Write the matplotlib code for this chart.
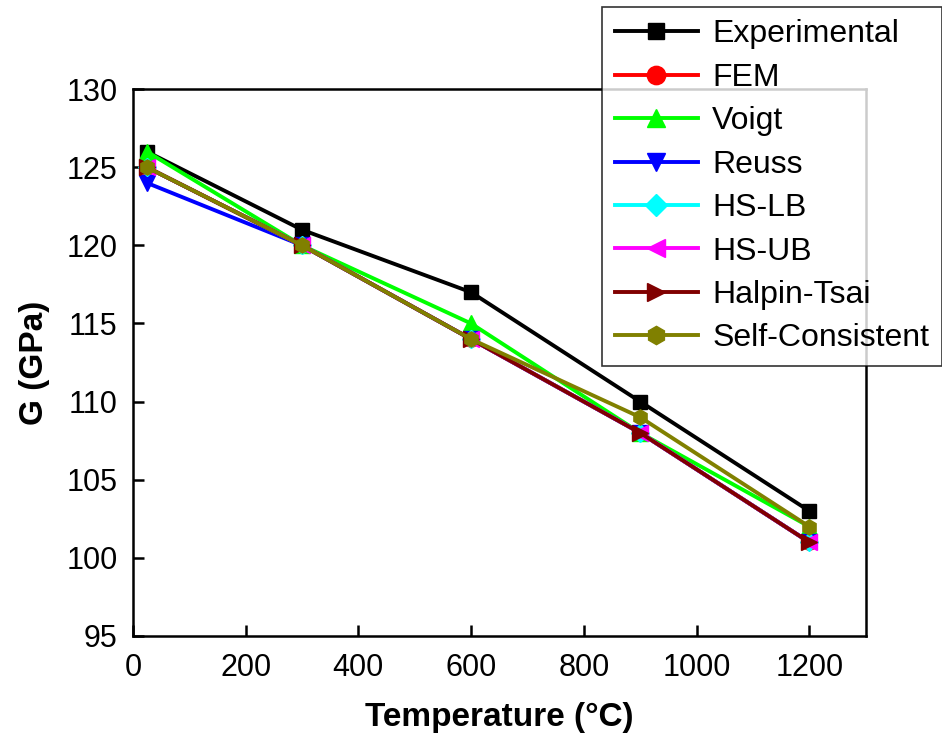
import matplotlib
matplotlib.use("Agg")
import matplotlib.pyplot as plt

temps = [25, 300, 600, 900, 1200]
experimental = [126, 121, 117, 110, 103]
fem = [125, 120, 114, 108, 101]
voigt = [126, 120, 115, 108, 102]
reuss = [124, 120, 114, 108, 101]
hs_lb = [125, 120, 114, 108, 101]
hs_ub = [125, 120, 114, 108, 101]
halpin_tsai = [125, 120, 114, 108, 101]
self_consistent = [125, 120, 114, 109, 102]

series = [
    ("Experimental", experimental, "#000000", "s"),
    ("FEM", fem, "#ff0000", "o"),
    ("Voigt", voigt, "#00ff00", "^"),
    ("Reuss", reuss, "#0000ff", "v"),
    ("HS-LB", hs_lb, "#00ffff", "D"),
    ("HS-UB", hs_ub, "#ff00ff", "<"),
    ("Halpin-Tsai", halpin_tsai, "#800000", ">"),
    ("Self-Consistent", self_consistent, "#808000", "h"),
]

plt.rcParams['font.family'] = ['Liberation Sans', 'DejaVu Sans']

fig = plt.figure(figsize=(9.42, 7.46), dpi=100)
ax = fig.add_axes([0.141, 0.1475, 0.778, 0.733])

for name, vals, col, mk in series:
    ms = 10 if mk in ("s",) else 11
    if mk == "D":
        ms = 9
    ax.plot(temps, vals, color=col, marker=mk, markersize=ms, linewidth=2.8,
            markeredgecolor=col, label=name)

ax.set_xlim(0, 1300)
ax.set_ylim(95, 130)
ax.set_xticks([0, 200, 400, 600, 800, 1000, 1200])
ax.set_yticks([95, 100, 105, 110, 115, 120, 125, 130])
ax.tick_params(direction='in', length=8, width=1.8, labelsize=22)
ax.tick_params(axis='y', pad=11)
ax.tick_params(axis='x', pad=12)
for s in ax.spines.values():
    s.set_linewidth(1.8)

ax.set_xlabel("Temperature (°C)", fontsize=24, fontweight='bold', labelpad=14)
ax.set_ylabel("G (GPa)", fontsize=24, fontweight='bold', labelpad=12)

leg = fig.legend(loc='upper left', bbox_to_anchor=(0.639, 0.991),
                 bbox_transform=fig.transFigure, fontsize=23, handlelength=2.6,
                 labelspacing=0.42, frameon=True, fancybox=False, borderpad=0.4,
                 handletextpad=0.45, borderaxespad=0, markerscale=1.2)
leg.get_frame().set_edgecolor('black')
leg.get_frame().set_linewidth(1.2)

fig.savefig("out.png", dpi=100)
